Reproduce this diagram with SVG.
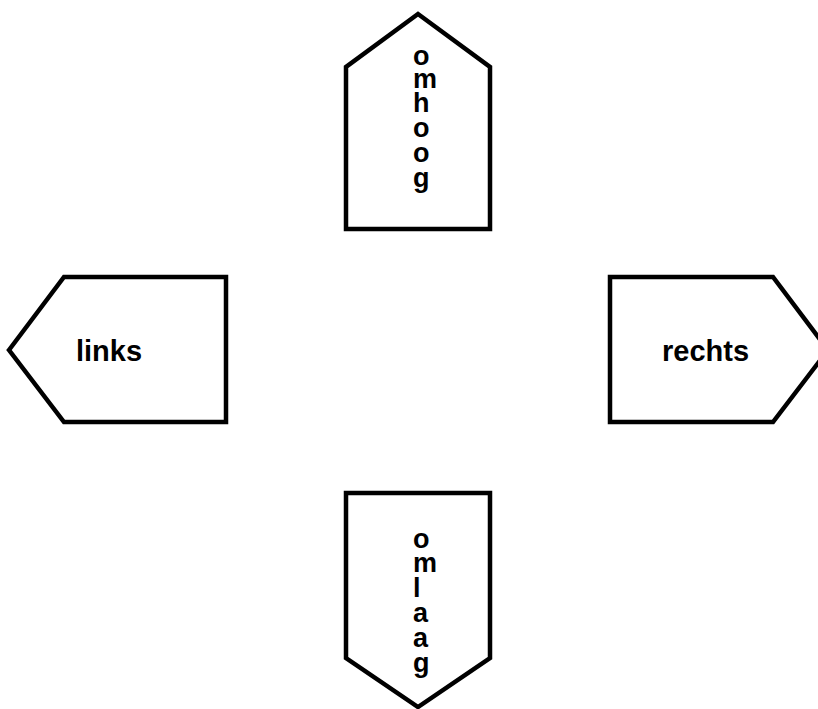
<svg xmlns="http://www.w3.org/2000/svg" width="818" height="709" viewBox="0 0 818 709">
<style>
.shape{fill:#fff;stroke:#000;stroke-width:4.5;stroke-linejoin:miter}
.lbl{font-family:"Liberation Sans",Arial,sans-serif;font-weight:bold;font-size:29px;fill:#000}
.v{font-size:27px}
</style>
<rect width="818" height="709" fill="#fff"/>
<g id="omhoog">
<polygon class="shape" points="418,14 490,67 490,229 346,229 346,67"/>
<text class="lbl v" x="413"><tspan x="413" y="65">o</tspan><tspan x="413" y="88">m</tspan><tspan x="413" y="112">h</tspan><tspan x="413" y="137">o</tspan><tspan x="413" y="162">o</tspan><tspan x="413" y="187">g</tspan></text>
</g>
<g id="links">
<polygon class="shape" points="9,350 64,277 226,277 226,422 64,422"/>
<text class="lbl" x="76" y="361">links</text>
</g>
<g id="rechts">
<polygon class="shape" points="610,277 773,277 828,350 773,422 610,422"/>
<text class="lbl" x="662" y="361">rechts</text>
</g>
<g id="omlaag">
<polygon class="shape" points="346,493 490,493 490,658 418,707 346,658"/>
<text class="lbl v" x="413"><tspan x="413" y="548">o</tspan><tspan x="413" y="572">m</tspan><tspan x="413" y="597">l</tspan><tspan x="413" y="622">a</tspan><tspan x="413" y="647">a</tspan><tspan x="413" y="672">g</tspan></text>
</g>
</svg>
